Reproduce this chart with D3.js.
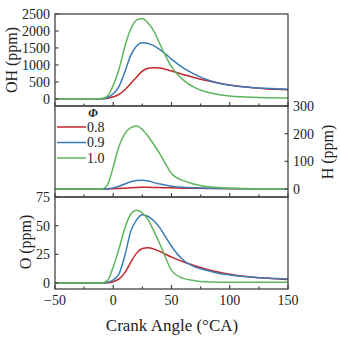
<!DOCTYPE html>
<html><head><meta charset="utf-8">
<script src="https://cdn.jsdelivr.net/npm/d3@7"></script>
<style>body{margin:0;background:#fff}svg{display:block}</style>
</head><body>
<svg id="c" width="340" height="340" font-family="'Liberation Serif', serif"></svg>
<script>
const crankAngle = [-50,-30,-15,-10,-5,0,5,10,15,20,25,30,35,40,45,50,60,70,80,90,100,110,120,130,140,150];
const phiLabels = ["0.8","0.9","1.0"];
const colors = ["#c1272d","#3b7bb6","#5db65b"];
const OH_08 = [0,0,0,0,20,60,130,270,450,640,820,900,920,910,870,820,720,620,540,470,410,365,330,300,280,265];
const OH_09 = [0,0,0,0,40,150,370,800,1280,1560,1650,1630,1560,1450,1320,1170,910,720,570,470,400,355,330,310,295,285];
const OH_10 = [0,0,0,10,80,400,880,1550,2050,2320,2370,2230,1990,1620,1260,950,560,330,200,130,85,60,45,35,30,25];
const H_08 = [0,0,0,0,0,1,2,3,4.5,5.5,6,6,5.5,5,4.5,4,3,2.5,2,1.5,1.2,1,1,0.9,0.8,0.8];
const H_09 = [0,0,0,0,1,4,10,18,26,31,32,29,23,18,14,10,6,4,3,2,1.5,1,1,1,1,1];
const H_10 = [0,0,0,0,15,80,155,200,222,228,215,190,160,127,90,56,30,17,9,5,3,2,1,1,0.5,0.5];
const O_08 = [0,0,0,0,0.2,1.1,3.5,9,18,26,30,30.7,29.5,27.5,25,22.5,18.5,15,12,9.5,7.5,6,5,4.2,3.6,3];
const O_09 = [0,0,0,0,0.5,2.6,8,24,45,55,59.5,58,54,48,40,32,20,14,11,8.5,7,5.8,5,4.3,3.8,3.4];
const O_10 = [0,0,0,0,2,14,30,48,60,63.5,61,55,45,34,22,11,4,2,1,0.7,0.6,0.5,0.5,0.5,0.5,0.5];
const xTicks = [-50,0,50,100,150];
const xMinor = [-25,25,75,125];
const ohTicks = [0,500,1000,1500,2000,2500];
const hTicks = [0,100,200,300];
const oTicks = [0,25,50,75];

const FONT = "'Liberation Serif', serif";
const svg = d3.select("#c");
const L = 55, R = 288;
const x = d3.scaleLinear().domain([-50,150]).range([L,R]);
const panels = [
  {top:14, bot:106, domain:[-210,2500], series:[OH_08,OH_09,OH_10], ticks:ohTicks, side:"left", title:"OH (ppm)", tx:11, ty:60},
  {top:106, bot:197, domain:[-29,300], series:[H_08,H_09,H_10], ticks:hTicks, side:"right", title:"H (ppm)", tx:327, ty:152},
  {top:197, bot:289, domain:[-5.3,75], series:[O_08,O_09,O_10], ticks:oTicks, side:"left", title:"O (ppm)", tx:25, ty:242}
];
const axisColor = "#444";
const txt = (sel)=>sel.attr("font-family",FONT).attr("fill","#222");
panels.forEach((p,i)=>{
  const y = d3.scaleLinear().domain(p.domain).range([p.bot,p.top]);
  const g = svg.append("g");
  const cid = "clip"+i;
  svg.append("clipPath").attr("id",cid).append("rect").attr("x",L).attr("y",p.top).attr("width",R-L).attr("height",p.bot-p.top);
  const line = d3.line().x((d,j)=>x(crankAngle[j])).y(d=>y(d)).curve(d3.curveMonotoneX);
  const lg = g.append("g").attr("clip-path",`url(#${cid})`);
  p.series.forEach((s,k)=>{
    lg.append("path").attr("d",line(s)).attr("fill","none").attr("stroke",colors[k]).attr("stroke-width",1.5);
  });
  g.append("rect").attr("x",L).attr("y",p.top).attr("width",R-L).attr("height",p.bot-p.top)
   .attr("fill","none").attr("stroke",axisColor).attr("stroke-width",1.3);
  xTicks.forEach(t=>g.append("line").attr("x1",x(t)).attr("x2",x(t)).attr("y1",p.bot).attr("y2",p.bot-4).attr("stroke",axisColor).attr("stroke-width",1.2));
  xMinor.forEach(t=>g.append("line").attr("x1",x(t)).attr("x2",x(t)).attr("y1",p.bot).attr("y2",p.bot-2.5).attr("stroke",axisColor).attr("stroke-width",1.2));
  const ax = p.side==="left" ? L : R;
  const dir = p.side==="left" ? 1 : -1;
  p.ticks.forEach(t=>{
    g.append("line").attr("x1",ax).attr("x2",ax+dir*3.5).attr("y1",y(t)).attr("y2",y(t)).attr("stroke",axisColor).attr("stroke-width",1.2);
    txt(g.append("text")).attr("x", p.side==="left" ? L-5 : R+5).attr("y",y(t)).attr("dy","0.35em")
      .attr("text-anchor", p.side==="left" ? "end" : "start").attr("font-size",14).text(t);
  });
  txt(g.append("text")).attr("transform",`translate(${p.tx},${p.ty}) rotate(-90)`).attr("text-anchor","middle")
    .attr("dy","0.35em").attr("font-size",16).text(p.title);
});
xTicks.forEach(t=>txt(svg.append("text")).attr("x",x(t)).attr("y",305).attr("text-anchor","middle").attr("font-size",14).text(t<0?"\u2212"+Math.abs(t):t));
txt(svg.append("text")).attr("x",172).attr("y",331).attr("text-anchor","middle").attr("font-size",17).text("Crank Angle (\u00B0CA)");
const lgd = svg.append("g");
txt(lgd.append("text")).attr("x",93).attr("y",117).attr("text-anchor","middle").attr("font-size",12).attr("font-style","italic").attr("font-weight","bold").text("\u03A6");
phiLabels.forEach((lab,k)=>{
  const yy = 127 + k*15.5;
  lgd.append("line").attr("x1",57).attr("x2",86).attr("y1",yy).attr("y2",yy).attr("stroke",colors[k]).attr("stroke-width",1.5);
  txt(lgd.append("text")).attr("x",87).attr("y",yy).attr("dy","0.35em").attr("font-size",14).text(lab);
});
</script></body></html>
